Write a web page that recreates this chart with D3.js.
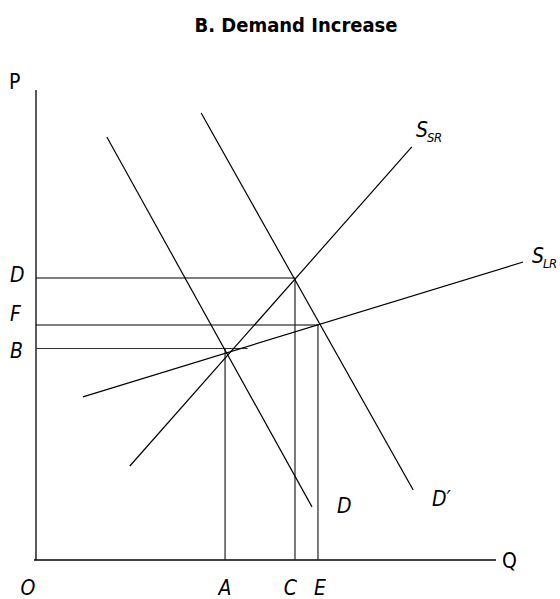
<!DOCTYPE html>
<html>
<head>
<meta charset="utf-8">
<script src="https://cdn.jsdelivr.net/npm/d3@7"></script>
<style>
  body { margin: 0; background: #fff; }
  text { font-family: "DejaVu Sans", sans-serif; font-stretch: condensed; }
</style>
</head>
<body>
<div id="container"></div>
<script>
// Chart size
const width = 560, height = 599;

// Price / quantity levels (chart units, 0-100 on each axis)
const qLevels = [
    { name: "O", q: 0 },
    { name: "A", q: 41.1 },
    { name: "C", q: 56.3 },
    { name: "E", q: 61.3 }
];
const pLevels = [
    { name: "D", p: 60 },
    { name: "F", p: 50 },
    { name: "B", p: 45 }
];

// Curves as two end points each [q, p]
const curveNames = ["S_SR", "S_LR", "D", "D'"];
const curveStart = [[20.4, 20], [10.2, 34.7], [15.4, 90], [35.9, 95.1]];
const curveEnd = [[81.7, 87.9], [105.9, 63.4], [60, 11.3], [82, 14.9]];

// Guide lines: horizontal from the P axis, vertical from the Q axis
const hGuides = [[60, 56.3], [50, 61.3], [45, 46]];   // [p, q end]
const vGuides = [[41.1, 45], [56.3, 60], [61.3, 50]]; // [q, p end]

const x = d3.scaleLinear().domain([0, 100]).range([36, 496]);
const y = d3.scaleLinear().domain([0, 100]).range([560, 90]);

const svg = d3.select("#container")
    .append("svg")
    .attr("width", width)
    .attr("height", height);

// Title
svg.append("text")
    .attr("x", 296)
    .attr("y", 32)
    .attr("text-anchor", "middle")
    .attr("font-size", 20)
    .attr("font-weight", "bold")
    .text("B. Demand Increase");

// Axes (plain lines, no ticks)
svg.append("line")
    .attr("x1", x(0)).attr("y1", y(100))
    .attr("x2", x(0)).attr("y2", y(0))
    .attr("stroke", "#000").attr("stroke-width", 1.3);
svg.append("line")
    .attr("x1", x(0) - 2).attr("y1", y(0))
    .attr("x2", x(100)).attr("y2", y(0))
    .attr("stroke", "#000").attr("stroke-width", 1.3);

svg.append("text").attr("x", 9).attr("y", 89)
    .attr("font-size", 21).text("P");
svg.append("text").attr("x", 502).attr("y", 568)
    .attr("font-size", 21).text("Q");

// Guide lines
svg.append("g")
    .selectAll("line")
    .data(hGuides)
    .enter()
    .append("line")
    .attr("x1", x(0)).attr("x2", d => x(d[1]))
    .attr("y1", d => y(d[0])).attr("y2", d => y(d[0]))
    .attr("stroke", (d, i) => i === 2 ? "#333" : "#000")
    .attr("stroke-width", 1.2);

svg.append("g")
    .selectAll("line")
    .data(vGuides)
    .enter()
    .append("line")
    .attr("x1", d => x(d[0])).attr("x2", d => x(d[0]))
    .attr("y1", y(0)).attr("y2", d => y(d[1]))
    .attr("stroke", "#222")
    .attr("stroke-width", 1.2);

// Supply and demand curves
svg.append("g")
    .selectAll("line")
    .data(curveNames)
    .enter()
    .append("line")
    .attr("x1", (d, i) => x(curveStart[i][0]))
    .attr("y1", (d, i) => y(curveStart[i][1]))
    .attr("x2", (d, i) => x(curveEnd[i][0]))
    .attr("y2", (d, i) => y(curveEnd[i][1]))
    .attr("stroke", "#000")
    .attr("stroke-width", 1.2);

// Axis labels (italic letters)
svg.append("g")
    .attr("font-size", 21)
    .attr("font-style", "italic")
    .selectAll("text")
    .data(qLevels)
    .enter()
    .append("text")
    .attr("x", d => x(d.q) + (d.name === "O" ? -8 : 0))
    .attr("y", 595)
    .attr("text-anchor", d => d.name === "C" ? "end" : (d.name === "E" ? "start" : "middle"))
    .attr("dx", d => d.name === "C" ? 2 : (d.name === "E" ? -4 : 0))
    .text(d => d.name);

// vertical nudges of the P-axis letters, as in the original drawing
const pLabelDy = [4, -4, 9];
svg.append("g")
    .attr("font-size", 21)
    .attr("font-style", "italic")
    .selectAll("text")
    .data(pLevels)
    .enter()
    .append("text")
    .attr("x", 10)
    .attr("y", (d, i) => y(d.p) + pLabelDy[i])
    .text(d => d.name);

// Curve labels
const labels = [
    { main: "S", sub: "SR", x: 416, y: 137 },
    { main: "S", sub: "LR", x: 532, y: 263 },
    { main: "D", sub: "", x: 337, y: 513 },
    { main: "D\u2032", sub: "", x: 432, y: 506 }
];
const lab = svg.append("g")
    .attr("font-style", "italic")
    .selectAll("text")
    .data(labels)
    .enter()
    .append("text")
    .attr("x", d => d.x)
    .attr("y", d => d.y)
    .attr("font-size", 21);
lab.append("tspan").text(d => d.main);
lab.append("tspan")
    .attr("dy", 5)
    .attr("dx", -1)
    .attr("font-size", 13)
    .attr("letter-spacing", -0.5)
    .text(d => d.sub);
</script>
</body>
</html>
